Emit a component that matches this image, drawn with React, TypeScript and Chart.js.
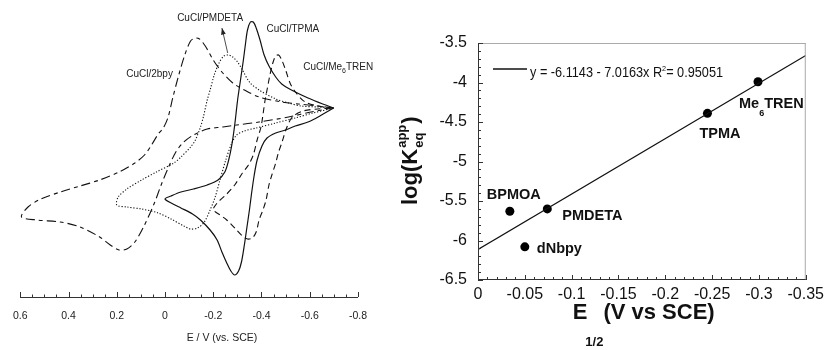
import React, { useEffect, useRef } from "react";
import { Chart, registerables } from "chart.js";

Chart.register(...registerables);

const FONT = "'Liberation Sans', Arial, Helvetica, sans-serif";
const INK = "#111";

// ---------- Left panel: cyclic voltammograms (E / V vs SCE, current in arbitrary units) ----------
const cvTicks = [0.6, 0.4, 0.2, 0, -0.2, -0.4, -0.6, -0.8];

const bpyE = [-0.699, -0.634, -0.553, -0.484, -0.390, -0.329, -0.281, -0.236, -0.200, -0.167, -0.143, -0.126, -0.106, -0.082, -0.057, -0.033, -0.013, 0.007, 0.028, 0.056, 0.085, 0.125, 0.190, 0.271, 0.352, 0.434, 0.515, 0.568, 0.595, 0.531, 0.434, 0.352, 0.271, 0.227, 0.190, 0.158, 0.125, 0.085, 0.044, 0.016, -0.013, -0.045, -0.078, -0.118, -0.175, -0.240, -0.297, -0.390, -0.512, -0.605, -0.699];
const bpyI = [18.9, 19.1, 19.3, 19.5, 20.0, 20.7, 21.4, 22.5, 23.7, 25.1, 25.8, 25.9, 25.6, 24.2, 22.2, 20.0, 18.0, 16.9, 16.3, 15.2, 14.2, 13.4, 12.5, 11.7, 11.1, 10.5, 9.8, 9.0, 8.0, 7.7, 7.5, 7.0, 6.0, 5.2, 4.7, 4.8, 5.5, 7.2, 9.4, 11.2, 12.9, 14.5, 15.5, 16.2, 16.8, 17.0, 17.2, 17.5, 18.0, 18.5, 18.9];

const pmdetaE = [-0.699, -0.634, -0.565, -0.512, -0.459, -0.390, -0.350, -0.321, -0.301, -0.281, -0.264, -0.244, -0.224, -0.204, -0.187, -0.175, -0.159, -0.147, -0.126, -0.106, -0.066, -0.037, 0.036, 0.097, 0.158, 0.194, 0.200, 0.158, 0.097, 0.028, -0.025, -0.078, -0.106, -0.135, -0.163, -0.187, -0.208, -0.228, -0.252, -0.277, -0.297, -0.329, -0.378, -0.459, -0.540, -0.613, -0.699];
const pmdetaI = [18.9, 19.0, 19.1, 19.4, 19.8, 20.7, 21.5, 22.7, 23.5, 24.0, 24.2, 24.1, 23.4, 22.2, 20.7, 19.7, 18.0, 17.0, 15.7, 15.0, 14.0, 13.4, 12.5, 11.7, 10.8, 10.0, 9.2, 9.0, 8.8, 8.4, 7.8, 7.1, 6.8, 6.9, 7.5, 8.7, 10.0, 11.7, 13.7, 15.4, 16.2, 16.6, 16.9, 17.4, 17.9, 18.4, 18.9];

const tpmaE = [-0.699, -0.654, -0.593, -0.524, -0.484, -0.459, -0.431, -0.411, -0.394, -0.378, -0.366, -0.354, -0.342, -0.333, -0.325, -0.313, -0.301, -0.289, -0.277, -0.264, -0.248, -0.220, -0.175, -0.118, -0.066, -0.025, 0.000, -0.033, -0.066, -0.114, -0.147, -0.187, -0.216, -0.236, -0.256, -0.273, -0.289, -0.305, -0.317, -0.329, -0.338, -0.350, -0.358, -0.370, -0.382, -0.402, -0.423, -0.459, -0.500, -0.540, -0.593, -0.642, -0.699];
const tpmaI = [18.9, 19.3, 19.9, 20.7, 21.3, 22.0, 23.1, 24.2, 25.7, 26.9, 27.5, 27.5, 26.7, 25.2, 23.7, 21.7, 19.7, 17.2, 15.2, 13.7, 12.5, 11.7, 11.2, 10.8, 10.5, 10.1, 9.8, 9.3, 8.9, 8.3, 7.7, 6.7, 5.7, 4.5, 3.4, 2.6, 2.2, 2.6, 3.5, 5.2, 6.7, 8.7, 10.2, 12.2, 13.7, 15.1, 15.9, 16.4, 16.7, 17.1, 17.5, 18.1, 18.9];

const me6E = [-0.699, -0.634, -0.581, -0.544, -0.520, -0.500, -0.484, -0.471, -0.459, -0.447, -0.435, -0.423, -0.415, -0.406, -0.398, -0.382, -0.366, -0.346, -0.321, -0.289, -0.252, -0.220, -0.204, -0.200, -0.228, -0.256, -0.289, -0.321, -0.342, -0.362, -0.378, -0.390, -0.406, -0.419, -0.431, -0.443, -0.459, -0.471, -0.484, -0.504, -0.528, -0.573, -0.634, -0.699];
const me6I = [18.9, 19.1, 19.5, 20.4, 21.3, 22.7, 23.7, 24.2, 24.1, 23.4, 22.2, 20.7, 19.7, 18.2, 17.0, 15.7, 14.2, 13.2, 12.4, 11.2, 10.2, 9.5, 9.0, 8.7, 8.2, 7.7, 6.9, 6.1, 5.8, 5.9, 6.5, 7.7, 8.7, 9.7, 11.2, 12.2, 13.4, 14.5, 15.4, 16.9, 18.0, 18.6, 18.8, 18.9];

// ---------- Right panel: log K vs E1/2 ----------
const ligands = ["BPMOA", "PMDETA", "dNbpy", "TPMA", "Me6TREN"];
const e12 = [-0.034, -0.074, -0.050, -0.245, -0.299];
const logK = [-5.63, -5.60, -6.08, -4.39, -3.99];
const fitE = [0, -0.35];
const fitLogK = [-6.114, -3.658];
const rxTicks = [0, -0.05, -0.1, -0.15, -0.2, -0.25, -0.3, -0.35];
const ryTicks = [-3.5, -4, -4.5, -5, -5.5, -6, -6.5];

const pts = (xs: number[], ys: number[]) => xs.map((x, i) => ({ x, y: ys[i] }));

function line(ctx: CanvasRenderingContext2D, x1: number, y1: number, x2: number, y2: number) {
  ctx.beginPath();
  ctx.moveTo(x1, y1);
  ctx.lineTo(x2, y2);
  ctx.stroke();
}

const leftPlugin = {
  id: "cvDecor",
  afterDraw(chart: any) {
    const { ctx, scales, chartArea } = chart;
    const x = scales.x;
    const y = scales.y;
    ctx.save();
    ctx.strokeStyle = "#333";
    ctx.lineWidth = 1;
    ctx.setLineDash([]);
    for (let k = -16; k <= 12; k++) {
      const px = Math.round(x.getPixelForValue(k * 0.05)) + 0.5;
      const len = k % 4 === 0 ? 5 : 2.5;
      line(ctx, px, chartArea.bottom, px, chartArea.bottom - len);
    }
    ctx.fillStyle = "#222";
    ctx.textBaseline = "alphabetic";
    ctx.font = `10px ${FONT}`;
    ctx.textAlign = "center";
    ctx.fillText("CuCl/2bpy", x.getPixelForValue(0.064), y.getPixelForValue(22.05));
    ctx.fillText("CuCl/PMDETA", x.getPixelForValue(-0.187), y.getPixelForValue(27.6));
    ctx.fillText("CuCl/TPMA", x.getPixelForValue(-0.53), y.getPixelForValue(26.55));
    // Me6TREN label with subscript
    ctx.textAlign = "left";
    let lx = x.getPixelForValue(-0.573);
    const ly = y.getPixelForValue(22.75);
    ctx.fillText("CuCl/Me", lx, ly);
    lx += ctx.measureText("CuCl/Me").width;
    ctx.font = `7px ${FONT}`;
    ctx.fillText("6", lx, ly + 3);
    lx += ctx.measureText("6").width;
    ctx.font = `10px ${FONT}`;
    ctx.fillText("TREN", lx, ly);
    // arrow
    const ax1 = x.getPixelForValue(-0.26), ay1 = y.getPixelForValue(24.4);
    const ax2 = x.getPixelForValue(-0.236), ay2 = y.getPixelForValue(26.9);
    ctx.strokeStyle = "#222";
    ctx.lineWidth = 0.8;
    line(ctx, ax1, ay1, ax2, ay2);
    const ang = Math.atan2(ay2 - ay1, ax2 - ax1);
    ctx.beginPath();
    ctx.moveTo(ax2, ay2);
    ctx.lineTo(ax2 - 7 * Math.cos(ang - 0.35), ay2 - 7 * Math.sin(ang - 0.35));
    ctx.lineTo(ax2 - 7 * Math.cos(ang + 0.35), ay2 - 7 * Math.sin(ang + 0.35));
    ctx.closePath();
    ctx.fill();
    // axis title
    ctx.textAlign = "center";
    ctx.font = `10.5px ${FONT}`;
    ctx.fillText("E / V (vs. SCE)", x.getPixelForValue(-0.236), chartArea.bottom + 44);
    ctx.restore();
  },
};

const rightPlugin = {
  id: "kDecor",
  afterDraw(chart: any) {
    const { ctx, scales, chartArea } = chart;
    const x = scales.x;
    const y = scales.y;
    const { left, right, top, bottom } = chartArea;
    ctx.save();
    ctx.setLineDash([]);
    ctx.lineWidth = 1;
    // frame
    ctx.strokeStyle = "#aaa";
    line(ctx, left, top + 0.5, right, top + 0.5);
    line(ctx, right - 0.5, top, right - 0.5, bottom);
    ctx.strokeStyle = "#333";
    line(ctx, left + 0.5, top, left + 0.5, bottom);
    line(ctx, left, bottom - 0.5, right, bottom - 0.5);
    // ticks
    for (let k = 0; k <= 35; k++) {
      const px = Math.round(x.getPixelForValue(-k * 0.01)) + 0.5;
      const len = k % 5 === 0 ? 5 : 3;
      line(ctx, px, bottom, px, bottom - len);
    }
    for (let k = -65; k <= -35; k++) {
      const py = Math.round(y.getPixelForValue(k / 10)) + 0.5;
      const len = k % 5 === 0 ? 5 : 3;
      line(ctx, left, py, left + len, py);
    }
    // point labels
    ctx.fillStyle = INK;
    ctx.textAlign = "left";
    ctx.textBaseline = "alphabetic";
    const offs = [[-23, -12], [15, 11], [12, 6], [-8, 25], [-19, 26]];
    ligands.forEach((name, i) => {
      const px = x.getPixelForValue(e12[i]) + offs[i][0];
      const py = y.getPixelForValue(logK[i]) + offs[i][1];
      ctx.font = `bold 14.5px ${FONT}`;
      const m = name.match(/^(Me)(6)(TREN)$/);
      if (m) {
        let cx = px;
        ctx.fillText(m[1], cx, py);
        cx += ctx.measureText(m[1]).width;
        ctx.font = `bold 9px ${FONT}`;
        ctx.fillText(m[2], cx, py + 8);
        cx += ctx.measureText(m[2]).width;
        ctx.font = `bold 14.5px ${FONT}`;
        ctx.fillText(m[3], cx, py);
      } else {
        ctx.fillText(name, px, py);
      }
    });
    // legend
    ctx.strokeStyle = INK;
    ctx.lineWidth = 1.3;
    line(ctx, left + 15, top + 26, left + 49, top + 26);
    const t1 = "y = -6.1143 - 7.0163x R";
    const t2 = "2";
    const t3 = "= 0.95051";
    ctx.font = `14px ${FONT}`;
    const w1 = ctx.measureText(t1).width;
    const w3 = ctx.measureText(t3).width;
    ctx.font = `8px ${FONT}`;
    const w2 = ctx.measureText(t2).width;
    const total = w1 + w2 + w3;
    const sx = 193 / total;
    ctx.save();
    ctx.translate(left + 52, top + 34);
    ctx.scale(sx, 1);
    ctx.font = `14px ${FONT}`;
    ctx.fillText(t1, 0, 0);
    ctx.font = `8px ${FONT}`;
    ctx.fillText(t2, w1, -6);
    ctx.font = `14px ${FONT}`;
    ctx.fillText(t3, w1 + w2, 0);
    ctx.restore();
    // x title
    ctx.font = `bold 22px ${FONT}`;
    let tx = x.getPixelForValue(-0.1) + 1;
    const ty = bottom + 39;
    ctx.fillText("E", tx, ty);
    tx += ctx.measureText("E").width;
    ctx.font = `bold 13px ${FONT}`;
    ctx.fillText("1/2", tx - 2, ty + 27);
    tx += ctx.measureText("1/2").width - 2;
    ctx.font = `bold 22px ${FONT}`;
    ctx.fillText("(V vs SCE)", tx, ty);
    // y title
    ctx.save();
    ctx.translate(37, 205);
    ctx.rotate(-Math.PI / 2);
    ctx.font = `bold 22px ${FONT}`;
    let yx = 0;
    ctx.fillText("log(K", yx, 0);
    yx += ctx.measureText("log(K").width;
    ctx.font = `bold 13px ${FONT}`;
    ctx.fillText("eq", yx + 1, 6);
    const we = ctx.measureText("eq").width;
    ctx.fillText("app", yx + 1, -11);
    const wa = ctx.measureText("app").width;
    yx += Math.max(we, wa) + 2;
    ctx.font = `bold 22px ${FONT}`;
    ctx.fillText(")", yx, 0);
    ctx.restore();
    ctx.restore();
  },
};

export default function App() {
  const leftRef = useRef<HTMLCanvasElement>(null);
  const rightRef = useRef<HTMLCanvasElement>(null);

  useEffect(() => {
    const cvSet = (label: string, xs: number[], ys: number[], dash: number[], w: number) => ({
      label,
      data: pts(xs, ys),
      showLine: true,
      borderColor: "#111",
      borderWidth: w,
      borderDash: dash,
      pointRadius: 0,
      tension: 0.3,
      fill: false,
    });
    const left = new Chart(leftRef.current!, {
      type: "scatter",
      data: {
        datasets: [
          cvSet("CuCl/2bpy", bpyE, bpyI, [9, 4, 4, 4], 1.1),
          cvSet("CuCl/PMDETA", pmdetaE, pmdetaI, [1.2, 1.8], 1.1),
          cvSet("CuCl/TPMA", tpmaE, tpmaI, [], 1.2),
          cvSet("CuCl/Me6TREN", me6E, me6I, [6, 4], 1.1),
        ],
      },
      options: {
        animation: false,
        responsive: false,
        layout: { padding: { left: 16, right: 19, top: 10, bottom: 0 } },
        plugins: { legend: { display: false }, tooltip: { enabled: false } },
        scales: {
          x: {
            type: "linear",
            min: -0.8,
            max: 0.6,
            reverse: true,
            afterBuildTicks: (s: any) => {
              s.ticks = cvTicks.map((v) => ({ value: v }));
            },
            afterFit: (s: any) => {
              s.height = 53;
            },
            ticks: {
              autoSkip: false,
              maxRotation: 0,
              padding: 13,
              color: "#222",
              font: { family: FONT, size: 10.5 },
              callback: (v: any) => String(v),
            },
            grid: { display: false, drawTicks: false },
            border: { display: true, color: "#333", width: 1 },
          },
          y: { type: "linear", display: false, min: 0, max: 28.7 },
        },
      },
      plugins: [leftPlugin],
    } as any);

    const right = new Chart(rightRef.current!, {
      type: "scatter",
      data: {
        datasets: [
          {
            label: "fit",
            data: pts(fitE, fitLogK),
            showLine: true,
            borderColor: INK,
            borderWidth: 1.3,
            pointRadius: 0,
          },
          {
            label: "ligands",
            data: pts(e12, logK),
            showLine: false,
            pointRadius: 4.5,
            backgroundColor: "#000",
            borderColor: "#000",
            borderWidth: 0,
          },
        ],
      },
      options: {
        animation: false,
        responsive: false,
        layout: { padding: { left: 0, right: 20, top: 43, bottom: 0 } },
        plugins: { legend: { display: false }, tooltip: { enabled: false } },
        scales: {
          x: {
            type: "linear",
            min: -0.35,
            max: 0,
            reverse: true,
            afterBuildTicks: (s: any) => {
              s.ticks = rxTicks.map((v) => ({ value: v }));
            },
            afterFit: (s: any) => {
              s.height = 70;
            },
            ticks: {
              autoSkip: false,
              maxRotation: 0,
              padding: 5,
              color: INK,
              font: { family: FONT, size: 16 },
              callback: (v: any) => String(v),
            },
            grid: { display: false, drawTicks: false },
            border: { display: false },
          },
          y: {
            type: "linear",
            min: -6.5,
            max: -3.5,
            afterBuildTicks: (s: any) => {
              s.ticks = ryTicks.map((v) => ({ value: v }));
            },
            afterFit: (s: any) => {
              s.width = 98;
            },
            ticks: {
              autoSkip: false,
              padding: 11,
              color: INK,
              font: { family: FONT, size: 16 },
              callback: (v: any) => String(v),
            },
            grid: { display: false, drawTicks: false },
            border: { display: false },
          },
        },
      },
      plugins: [rightPlugin],
    } as any);

    return () => {
      left.destroy();
      right.destroy();
    };
  }, []);

  return (
    <div style={{ position: "absolute", left: 0, top: 0, width: 829, height: 350, background: "#fff" }}>
      <canvas ref={leftRef} width={380} height={350} style={{ position: "absolute", left: 0, top: 0 }} />
      <canvas ref={rightRef} width={449} height={350} style={{ position: "absolute", left: 380, top: 0 }} />
    </div>
  );
}
